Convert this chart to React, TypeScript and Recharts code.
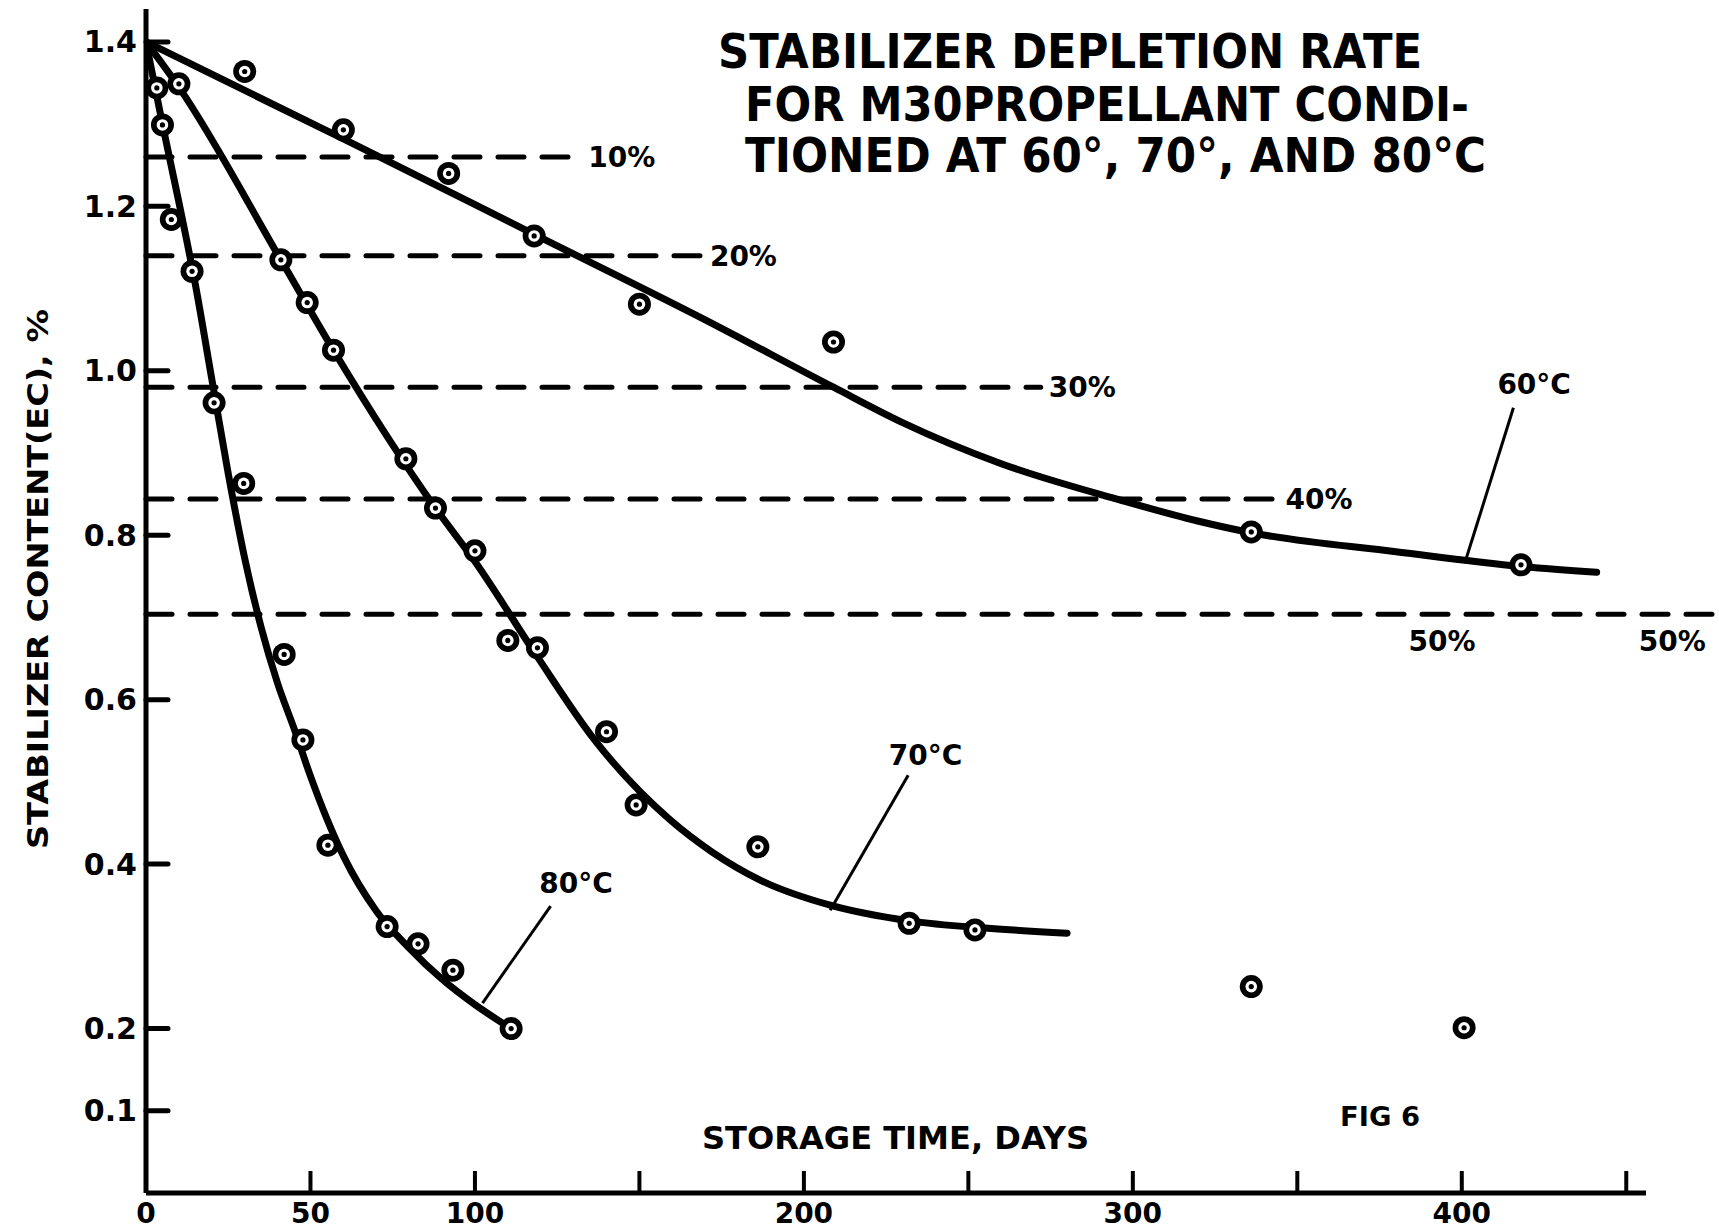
import { ComposedChart, Line, Scatter, XAxis, YAxis, ReferenceLine, ReferenceDot } from "recharts";

const FONT = "'DejaVu Sans', 'Liberation Sans', sans-serif";

// axis ticks
const xTicks = [0, 50, 100, 150, 200, 250, 300, 350, 400, 450];
const xTickLabels = [0, 50, 100, 200, 300, 400];
const yTicks = [0.1, 0.2, 0.4, 0.6, 0.8, 1.0, 1.2, 1.4];

// measured points (days, % EC)
const points60 = [
  { x: 30, y: 1.364 }, { x: 60, y: 1.293 }, { x: 92, y: 1.24 }, { x: 118, y: 1.164 },
  { x: 150, y: 1.081 }, { x: 209, y: 1.035 }, { x: 336, y: 0.804 }, { x: 418, y: 0.764 },
];
const points70 = [
  { x: 10, y: 1.349 }, { x: 41, y: 1.135 }, { x: 49, y: 1.083 }, { x: 57, y: 1.025 },
  { x: 79, y: 0.893 }, { x: 88, y: 0.833 }, { x: 100, y: 0.781 }, { x: 110, y: 0.672 },
  { x: 119, y: 0.663 }, { x: 140, y: 0.561 }, { x: 149, y: 0.472 }, { x: 186, y: 0.421 },
  { x: 232, y: 0.328 }, { x: 252, y: 0.32 },
];
const points80 = [
  { x: 3.3, y: 1.344 }, { x: 5, y: 1.299 }, { x: 7.7, y: 1.184 }, { x: 14, y: 1.121 },
  { x: 20.7, y: 0.961 }, { x: 29.7, y: 0.863 }, { x: 42, y: 0.655 }, { x: 47.7, y: 0.551 },
  { x: 55.3, y: 0.423 }, { x: 73.3, y: 0.324 }, { x: 82.7, y: 0.303 }, { x: 93.3, y: 0.271 },
  { x: 111, y: 0.2 },
];
const lateReadings = [{ x: 336, y: 0.251 }, { x: 400.7, y: 0.201 }];

// drawn fit curves
const curve60 = [
  { x: 0, y: 1.4 }, { x: 60, y: 1.282 }, { x: 120, y: 1.162 }, { x: 170, y: 1.062 },
  { x: 209, y: 0.98 }, { x: 230, y: 0.937 }, { x: 260, y: 0.887 }, { x: 296, y: 0.843 },
  { x: 320, y: 0.817 }, { x: 336, y: 0.803 }, { x: 380, y: 0.78 }, { x: 418, y: 0.762 },
  { x: 441, y: 0.755 },
];
const curve70 = [
  { x: 0, y: 1.4 }, { x: 10, y: 1.345 }, { x: 41, y: 1.135 }, { x: 57, y: 1.025 },
  { x: 88, y: 0.833 }, { x: 100, y: 0.768 }, { x: 119, y: 0.652 }, { x: 136, y: 0.553 },
  { x: 159, y: 0.455 }, { x: 172, y: 0.415 }, { x: 187, y: 0.38 }, { x: 208, y: 0.35 },
  { x: 232, y: 0.331 }, { x: 256, y: 0.322 }, { x: 280, y: 0.316 },
];
const curve80 = [
  { x: 0, y: 1.4 }, { x: 5, y: 1.3 }, { x: 10, y: 1.205 }, { x: 15, y: 1.105 },
  { x: 20, y: 0.99 }, { x: 25, y: 0.875 }, { x: 30, y: 0.772 }, { x: 35, y: 0.688 },
  { x: 40, y: 0.62 }, { x: 45, y: 0.565 }, { x: 50, y: 0.507 }, { x: 55, y: 0.455 },
  { x: 60, y: 0.41 }, { x: 70, y: 0.343 }, { x: 80, y: 0.298 }, { x: 90, y: 0.26 },
  { x: 100, y: 0.229 }, { x: 111, y: 0.2 },
];

// depletion levels (dashed)
const levelLabels = ["10%", "20%", "30%", "40%", "50%"];
const levelValues = [1.26, 1.14, 0.98, 0.844, 0.704];
const levelEnds = [132, 169, 272, 344, 480];

const BLACK = "#000";

const Marker = (props: any) => {
  const { cx, cy } = props;
  if (cx == null || cy == null) return null;
  return (
    <g>
      <circle cx={cx} cy={cy} r={11.5} fill={BLACK} />
      <circle cx={cx} cy={cy} r={5.8} fill="#fff" />
      <circle cx={cx} cy={cy} r={2.6} fill={BLACK} />
    </g>
  );
};

const YTick = (props: any) => {
  const { x, y, payload } = props;
  return (
    <g>
      <line x1={x} y1={y} x2={x + 22} y2={y} stroke={BLACK} strokeWidth={5} strokeLinecap="round" />
      <text x={x - 9} y={y} textAnchor="end" dominantBaseline="central" fontSize={30} fontWeight={700} fontFamily={FONT} fill={BLACK}>
        {payload.value.toFixed(1)}
      </text>
    </g>
  );
};

const XTick = (props: any) => {
  const { x, y, payload } = props;
  return (
    <g>
      <line x1={x} y1={y} x2={x} y2={y - 22} stroke={BLACK} strokeWidth={4} />
      {xTickLabels.includes(payload.value) && (
        <text x={x} y={y + 30} textAnchor="middle" fontSize={28} fontWeight={700} fontFamily={FONT} fill={BLACK}>
          {payload.value}
        </text>
      )}
    </g>
  );
};

const lbl = (value: string, position: any, offset = 8) => ({
  value, position, offset, fill: BLACK, fontSize: 28, fontWeight: 700, fontFamily: FONT,
});

export default function App() {
  return (
    <div style={{ position: "absolute", left: 0, top: 0, width: 1719, height: 1230, background: "#fff", overflow: "hidden" }}>
      <ComposedChart width={1719} height={1230} margin={{ top: 9, right: 73, bottom: 7, left: 86 }}>
        <XAxis type="number" dataKey="x" domain={[0, 456]} ticks={xTicks} height={30}
          axisLine={{ stroke: BLACK, strokeWidth: 5 }} tickLine={false} tickSize={0} tickMargin={0}
          tick={<XTick />} interval={0} allowDataOverflow />
        <YAxis type="number" dataKey="y" domain={[0, 1.44]} ticks={yTicks} width={60}
          axisLine={{ stroke: BLACK, strokeWidth: 5 }} tickLine={false} tickSize={0} tickMargin={0}
          tick={<YTick />} interval={0} allowDataOverflow />

        {levelValues.map((v, i) => (
          <ReferenceLine key={levelLabels[i]} segment={[{ x: 0, y: v }, { x: levelEnds[i], y: v }]}
            stroke={BLACK} strokeWidth={5} strokeDasharray="26 18" strokeLinecap="round" ifOverflow="visible"
            label={i < 4 ? lbl(levelLabels[i], "right") : undefined} />
        ))}
        <ReferenceDot x={394} y={0.671} r={0} stroke="none" fill="none" ifOverflow="visible" label={lbl("50%", "center", 0)} />
        <ReferenceDot x={464} y={0.671} r={0} stroke="none" fill="none" ifOverflow="visible" label={lbl("50%", "center", 0)} />

        {/* leader lines to curves */}
        <ReferenceLine segment={[{ x: 415.7, y: 0.955 }, { x: 401.3, y: 0.771 }]} stroke={BLACK} strokeWidth={3} />
        <ReferenceLine segment={[{ x: 231.7, y: 0.508 }, { x: 208, y: 0.344 }]} stroke={BLACK} strokeWidth={3} />
        <ReferenceLine segment={[{ x: 123, y: 0.349 }, { x: 102.3, y: 0.231 }]} stroke={BLACK} strokeWidth={3} />
        <ReferenceDot x={422} y={0.984} r={0} stroke="none" fill="none" label={lbl("60°C", "center", 0)} />
        <ReferenceDot x={237} y={0.533} r={0} stroke="none" fill="none" label={lbl("70°C", "center", 0)} />
        <ReferenceDot x={130.7} y={0.377} r={0} stroke="none" fill="none" label={lbl("80°C", "center", 0)} />

        <Line data={curve60} dataKey="y" type="monotone" stroke={BLACK} strokeWidth={7} dot={false} strokeLinecap="round" isAnimationActive={false} />
        <Line data={curve70} dataKey="y" type="monotone" stroke={BLACK} strokeWidth={7} dot={false} strokeLinecap="round" isAnimationActive={false} />
        <Line data={curve80} dataKey="y" type="monotone" stroke={BLACK} strokeWidth={7} dot={false} strokeLinecap="round" isAnimationActive={false} />

        <Scatter data={points60} dataKey="y" shape={<Marker />} isAnimationActive={false} />
        <Scatter data={points70} dataKey="y" shape={<Marker />} isAnimationActive={false} />
        <Scatter data={points80} dataKey="y" shape={<Marker />} isAnimationActive={false} />
        <Scatter data={lateReadings} dataKey="y" shape={<Marker />} isAnimationActive={false} />
      </ComposedChart>

      <svg width={1719} height={1230} style={{ position: "absolute", left: 0, top: 0, pointerEvents: "none" }}>
        <g fontFamily={FONT} fontWeight={700} fill={BLACK}>
          <text x={718} y={68} fontSize={48} textLength={704} lengthAdjust="spacingAndGlyphs">STABILIZER DEPLETION RATE</text>
          <text x={745} y={121} fontSize={48} textLength={724} lengthAdjust="spacingAndGlyphs">FOR M30PROPELLANT CONDI-</text>
          <text x={745} y={172} fontSize={48} textLength={741} lengthAdjust="spacingAndGlyphs">TIONED AT 60°, 70°, AND 80°C</text>
          <text x={702} y={1149} fontSize={32} textLength={387} lengthAdjust="spacingAndGlyphs">STORAGE TIME, DAYS</text>
          <text x={1340} y={1126} fontSize={27} textLength={80} lengthAdjust="spacingAndGlyphs">FIG 6</text>
          <text x={48} y={579} fontSize={29} textAnchor="middle" transform="rotate(-90 48 579)" textLength={540} lengthAdjust="spacingAndGlyphs">STABILIZER CONTENT(EC), %</text>
        </g>
      </svg>
    </div>
  );
}
